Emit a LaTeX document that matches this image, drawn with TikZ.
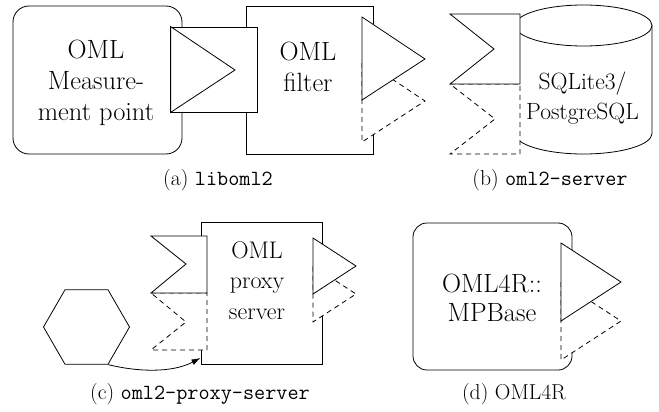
\documentclass[tikz,border=0pt]{standalone}
\usepackage{fontspec}
\usetikzlibrary{shapes.geometric,arrows.meta}
\tikzset{
  solidpart/.style={draw, fill=white},
  dashedpart/.style={draw, fill=white, dash pattern=on 5pt off 4pt},
  plainbox/.style={draw, fill=white, inner sep=0pt},
  bigtext/.style={align=center, inner sep=0pt, font=\fontsize{26.4}{31}\selectfont},
  midtext/.style={align=center, inner sep=0pt, font=\fontsize{24}{30.5}\selectfont},
  dbtextstyle/.style={align=center, inner sep=0pt, font=\fontsize{23.5}{30}\selectfont},
  captext/.style={inner sep=0pt, font=\fontsize{21.6}{26}\selectfont},
}
\begin{document}
\begin{tikzpicture}[x=1pt,y=1pt,line width=0.8pt]
\useasboundingbox (0,0) rectangle (659,-412);
% ---------- (a) liboml2
\node[plainbox, rounded corners=16pt, minimum width=169pt, minimum height=148pt] (mp) at (97.5,-80) {};
\node[bigtext] (mptext) at (96,-83) {OML\\Measure-\\ment point};
\node[plainbox, minimum width=127pt, minimum height=148pt] (filter) at (309.5,-80) {};
\node[bigtext] (filtertext) at (308,-67) {OML\\filter};
\node[plainbox, minimum width=86pt, minimum height=85pt] (sq) at (214,-69.5) {};
\draw[solidpart] (sq.north west) -- (235,-70) -- (sq.south west) -- cycle;
\draw[dashedpart] (362,-59) -- (425,-101) -- (362,-142) -- cycle;
\draw[solidpart] (362,-17) -- (425,-59) -- (362,-100) -- cycle;
\node[captext] (capa) at (218,-180) {(a) \texttt{liboml2}};
% ---------- (b) oml2-server
\draw[fill=white] (515,-25.5) -- (515,-133.5)
  arc[start angle=180, end angle=360, x radius=68.5, y radius=20.5]
  -- (652,-25.5)
  arc[start angle=0, end angle=180, x radius=68.5, y radius=20.5] -- cycle;
\draw (515,-25.5) arc[start angle=180, end angle=360, x radius=68.5, y radius=20.5];
\node[dbtextstyle] (dbtext) at (582.5,-98) {SQLite3/\\PostgreSQL};
\draw[dashedpart] (450,-84) -- (520,-84) -- (520,-154) -- (450,-154) -- (495,-119) -- cycle;
\draw[solidpart] (450,-14) -- (520,-14) -- (520,-84) -- (450,-84) -- (494,-49) -- cycle;
\node[captext] (capb) at (550,-180) {(b) \texttt{oml2-server}};
% ---------- (c) oml2-proxy-server
\node[plainbox, minimum width=121pt, minimum height=142pt] (pbox) at (261.5,-293) {};
\node[midtext] (pboxtext) at (257,-280.5) {OML\\proxy\\server};
\draw[dashedpart] (151,-293) -- (207,-293) -- (207,-350) -- (151,-350) -- (186,-322) -- cycle;
\draw[solidpart] (151,-236) -- (207,-236) -- (207,-293) -- (151,-293) -- (186,-264) -- cycle;
\draw[dashedpart] (313,-266) -- (356,-294) -- (313,-322) -- cycle;
\draw[solidpart] (313,-238) -- (356,-266) -- (313,-294) -- cycle;
\node[draw, regular polygon, regular polygon sides=6, minimum size=86pt, inner sep=0pt] (hex) at (86.5,-327) {};
\coordinate (ptip) at (200.5,-358);
\draw[-{Latex[length=9pt,width=6pt]}] (hex.300) .. controls (138,-372) and (172,-373) .. (ptip);
\node[captext] (capc) at (200,-394) {(c) \texttt{oml2-proxy-server}};
% ---------- (d) OML4R
\node[plainbox, rounded corners=14pt, minimum width=159pt, minimum height=147pt] (r4) at (492.5,-296.5) {};
\node[bigtext, font=\fontsize{26.4}{29.5}\selectfont] (r4text) at (492,-298) {OML4R::\\MPBase};
\draw[dashedpart] (561,-282) -- (621,-321) -- (561,-360) -- cycle;
\draw[solidpart] (561,-243) -- (621,-282) -- (561,-321) -- cycle;
\node[captext] (capd) at (514,-394) {(d) OML4R};
\end{tikzpicture}
\end{document}
